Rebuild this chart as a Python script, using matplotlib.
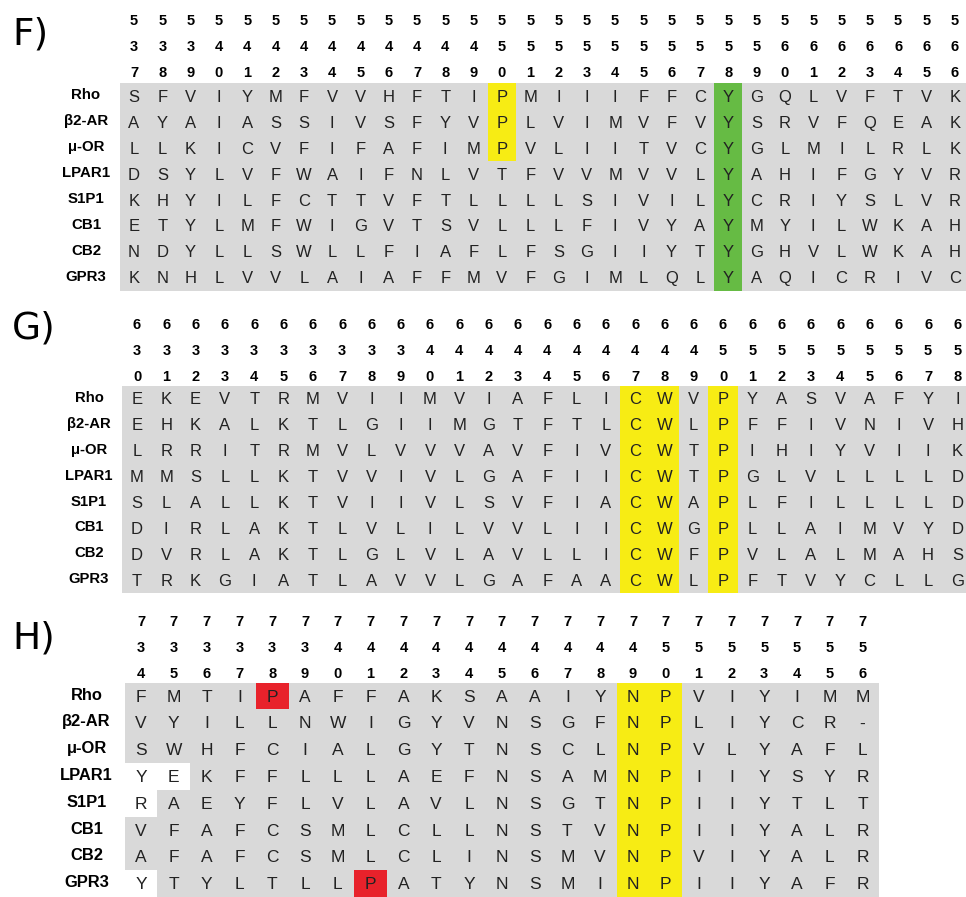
import matplotlib.pyplot as plt
from matplotlib.patches import Rectangle

proteins = ["Rho", "β2-AR", "μ-OR", "LPAR1", "S1P1", "CB1", "CB2", "GPR3"]

# panel F, residues 537-566
f_start = 537
f_seqs = [
    "SFVIYMFVVHFTIPMIIIFFCYGQLVFTVK",
    "AYAIASSIVSFYVPLVIMVFVYSRVFQEAK",
    "LLKICVFIFAFIMPVLIITVCYGLMILRLK",
    "DSYLVFWAIFNLVTFVVMVVLYAHIFGYVR",
    "KHYILFCTTVFTLLLLSIVILYCRIYSLVR",
    "ETYLMFWIGVTSVLLLFIVYAYMYILWKAH",
    "NDYLLSWLLFIAFLFSGIIYTYGHVLWKAH",
    "KNHLVVLAIAFFMVFGIMLQLYAQICRIVC",
]
# (column, first row, number of rows, colour)
f_marks = [(13, 0, 3, "yellow"), (21, 0, 8, "green")]
f_blank = []

# panel G, residues 630-658
g_start = 630
g_seqs = [
    "EKEVTRMVIIMVIAFLICWVPYASVAFYI",
    "EHKALKTLGIIMGTFTLCWLPFFIVNIVH",
    "LRRITRMVLVVVAVFIVCWTPIHIYVIIK",
    "MMSLLKTVVIVLGAFIICWTPGLVLLLLD",
    "SLALLKTVIIVLSVFIACWAPLFILLLLD",
    "DIRLAKTLVLILVVLIICWGPLLAIMVYD",
    "DVRLAKTLGLVLAVLLICWFPVLALMAHS",
    "TRKGIATLAVVLGAFAACWLPFTVYCLLG",
]
g_marks = [(17, 0, 8, "yellow"), (18, 0, 8, "yellow"), (20, 0, 8, "yellow")]
g_blank = []

# panel H, residues 734-756
h_start = 734
h_seqs = [
    "FMTIPAFFAKSAAIYNPVIYIMM",
    "VYILLNWIGYVNSGFNPLIYCR-",
    "SWHFCIALGYTNSCLNPVLYAFL",
    "YEKFFLLLAEFNSAMNPIIYSYR",
    "RAEYFLVLAVLNSGTNPIIYTLT",
    "VFAFCSMLCLLNSTVNPIIYALR",
    "AFAFCSMLCLINSMVNPVIYALR",
    "YTYLTLLPATYNSMINPIIYAFR",
]
h_marks = [(4, 0, 1, "red"), (7, 7, 1, "red"),
           (15, 0, 8, "yellow"), (16, 0, 8, "yellow")]
# (row, column) cells with no grey background
h_blank = [(3, 0), (3, 1), (4, 0), (7, 0)]

colours = {"yellow": "#f7ec14", "green": "#66bb44", "red": "#e8222b"}
grey = "#d9d9d9"

fig = plt.figure(figsize=(9.66, 8.97), dpi=100)
ax = fig.add_axes([0, 0, 1, 1])
ax.set_xlim(0, 966)
ax.set_ylim(897, 0)
ax.axis("off")

res_font = "Liberation Sans"


def draw_panel(tag, start, seqs, marks, blank, x0, dx, top, hh, head_y, label_x,
               tag_y, res_size, lab_size):
    ncol = len(seqs[0])
    nrow = len(seqs)
    left = x0 - dx / 2
    ax.add_patch(Rectangle((left, top), ncol * dx, nrow * hh, color=grey, lw=0))
    for r, c in blank:
        ax.add_patch(Rectangle((left + c * dx, top + r * hh), dx, hh,
                               color="white", lw=0))
    for c, r0, n, col in marks:
        ax.add_patch(Rectangle((left + c * dx, top + r0 * hh), dx, n * hh,
                               color=colours[col], lw=0))
    # position numbers, written vertically
    for c in range(ncol):
        num = str(start + c)
        for k, d in enumerate(num):
            ax.text(x0 + c * dx, head_y + k * 26, d, ha="center", va="center",
                    fontsize=10.5, fontweight="bold", family=res_font)
    for r, seq in enumerate(seqs):
        yc = top + (r + 0.5) * hh
        ax.text(label_x, yc - 1, proteins[r], ha="center", va="center",
                fontsize=lab_size, fontweight="bold", family=res_font)
        for c, aa in enumerate(seq):
            ax.text(x0 + c * dx, yc + 1, aa, ha="center", va="center",
                    fontsize=res_size, family=res_font, color="#222222")
    ax.text(12, tag_y, tag, ha="left", va="center", fontsize=27,
            family="DejaVu Sans")


draw_panel("F)", f_start, f_seqs, f_marks, f_blank,
           x0=134, dx=28.3, top=83.5, hh=25.9, head_y=21, label_x=86,
           tag_y=34, res_size=12, lab_size=10.8)
draw_panel("G)", g_start, g_seqs, g_marks, g_blank,
           x0=137, dx=29.3, top=386, hh=25.9, head_y=325, label_x=89,
           tag_y=328, res_size=12, lab_size=10.7)
draw_panel("H)", h_start, h_seqs, h_marks, h_blank,
           x0=141, dx=32.8, top=682.7, hh=26.8, head_y=622, label_x=86.5,
           tag_y=638, res_size=12.5, lab_size=11.9)

fig.savefig("out.png", dpi=100)
